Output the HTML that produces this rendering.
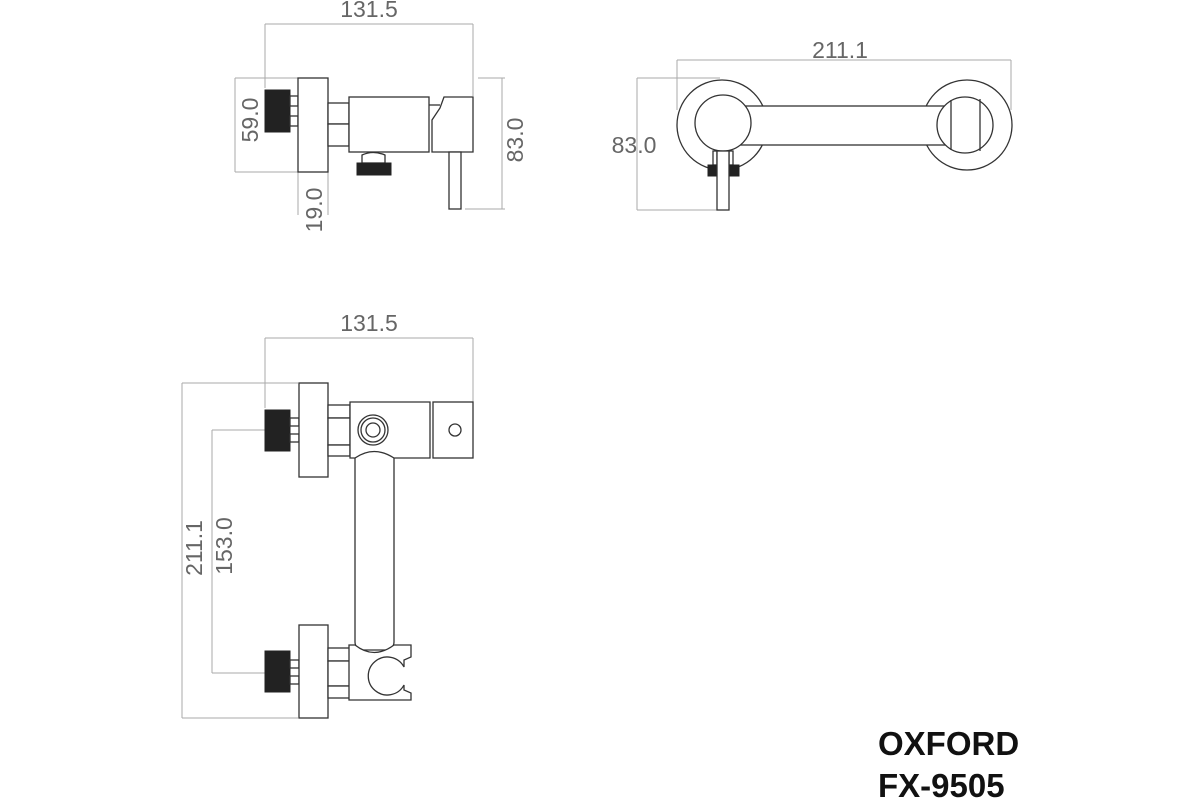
<!DOCTYPE html>
<html><head><meta charset="utf-8"><style>
html,body{margin:0;padding:0;background:#fff;width:1200px;height:800px;overflow:hidden}
svg{display:block}
.d{stroke:#aaa;stroke-width:1;fill:none}
.o{stroke:#333;stroke-width:1.3;fill:#fff}
.k{fill:#222;stroke:#222;stroke-width:1}
.t{font-family:"Liberation Sans",sans-serif;font-size:23px;fill:#666}
.b{font-family:"Liberation Sans",sans-serif;font-size:33px;font-weight:bold;fill:#111}
</style></head><body>
<svg width="1200" height="800" viewBox="0 0 1200 800" xmlns="http://www.w3.org/2000/svg">
<!-- ===== Top-left side view ===== -->
<line class="d" x1="265" y1="24" x2="473" y2="24"/>
<line class="d" x1="265" y1="24" x2="265" y2="88"/>
<line class="d" x1="473" y1="24" x2="473" y2="96"/>
<text class="t" x="369" y="17" text-anchor="middle">131.5</text>
<line class="d" x1="235" y1="78" x2="235" y2="172"/>
<line class="d" x1="235" y1="78" x2="298" y2="78"/>
<line class="d" x1="235" y1="172" x2="298" y2="172"/>
<text class="t" transform="translate(258,120) rotate(-90)" text-anchor="middle">59.0</text>
<line class="d" x1="502" y1="78" x2="502" y2="209"/>
<line class="d" x1="478" y1="78" x2="505" y2="78"/>
<line class="d" x1="465" y1="209" x2="505" y2="209"/>
<text class="t" transform="translate(523,140) rotate(-90)" text-anchor="middle">83.0</text>
<line class="d" x1="298" y1="172" x2="298" y2="215"/>
<line class="d" x1="328" y1="172" x2="328" y2="215"/>
<text class="t" transform="translate(322,210) rotate(-90)" text-anchor="middle">19.0</text>
<rect class="k" x="265" y="90" width="25" height="42"/>
<rect class="o" x="290" y="96" width="8" height="10"/>
<rect class="o" x="290" y="116" width="8" height="10"/>
<rect class="o" x="298" y="78" width="30" height="94"/>
<rect class="o" x="328" y="103" width="21" height="21"/>
<rect class="o" x="328" y="124" width="21" height="22"/>
<rect class="o" x="349" y="97" width="80" height="55"/>
<path class="o" d="M432 152 V120 L440 108 L444 97 H473 V152 Z"/>
<line class="o" x1="429" y1="105" x2="440" y2="105"/>
<rect class="o" x="449" y="152" width="12" height="57"/>
<path class="o" d="M362 163 V155 Q373 150 385 155 V163 Z"/>
<rect class="k" x="357" y="163" width="34" height="12"/>
<!-- ===== Top-right front view ===== -->
<line class="d" x1="677" y1="60" x2="1011" y2="60"/>
<line class="d" x1="677" y1="60" x2="677" y2="110"/>
<line class="d" x1="1011" y1="60" x2="1011" y2="110"/>
<text class="t" x="840" y="58" text-anchor="middle">211.1</text>
<line class="d" x1="637" y1="78" x2="637" y2="210"/>
<line class="d" x1="637" y1="78" x2="720" y2="78"/>
<line class="d" x1="637" y1="210" x2="717" y2="210"/>
<text class="t" x="634" y="153" text-anchor="middle">83.0</text>
<circle class="o" cx="722" cy="125" r="45"/>
<circle class="o" cx="967" cy="125" r="45"/>
<rect class="o" x="740" y="106" width="210" height="39"/>
<circle class="o" cx="723" cy="123" r="28"/>
<circle class="o" cx="965" cy="125" r="28"/>
<line class="o" x1="951" y1="100" x2="951" y2="150"/>
<line class="o" x1="980" y1="99" x2="980" y2="151"/>
<rect class="o" x="713" y="151" width="4" height="14"/>
<rect class="o" x="729" y="151" width="4" height="14"/>
<rect class="k" x="708" y="165" width="9" height="11"/>
<rect class="k" x="729" y="165" width="10" height="11"/>
<rect class="o" x="717" y="151" width="12" height="59"/>
<!-- ===== Bottom-left top view ===== -->
<line class="d" x1="265" y1="338" x2="473" y2="338"/>
<line class="d" x1="265" y1="338" x2="265" y2="408"/>
<line class="d" x1="473" y1="338" x2="473" y2="402"/>
<text class="t" x="369" y="331" text-anchor="middle">131.5</text>
<line class="d" x1="182" y1="383" x2="182" y2="718"/>
<line class="d" x1="182" y1="383" x2="298" y2="383"/>
<line class="d" x1="182" y1="718" x2="298" y2="718"/>
<line class="d" x1="212" y1="430" x2="212" y2="673"/>
<line class="d" x1="212" y1="430" x2="265" y2="430"/>
<line class="d" x1="212" y1="673" x2="265" y2="673"/>
<text class="t" transform="translate(202,548) rotate(-90)" text-anchor="middle">211.1</text>
<text class="t" transform="translate(232,546) rotate(-90)" text-anchor="middle">153.0</text>
<rect class="k" x="265" y="410" width="25" height="41"/>
<rect class="o" x="290" y="418" width="9" height="8"/>
<rect class="o" x="290" y="434" width="9" height="8"/>
<rect class="o" x="299" y="383" width="29" height="94"/>
<rect class="o" x="328" y="405" width="22" height="13"/>
<rect class="o" x="328" y="418" width="22" height="27"/>
<rect class="o" x="328" y="445" width="22" height="11"/>
<rect class="o" x="355" y="450" width="39" height="200" rx="8"/>
<path class="o" d="M350 402 H430 V458 H394 Q374 445 355 458 H350 Z"/>
<circle class="o" cx="373" cy="430" r="15"/>
<circle class="o" cx="373" cy="430" r="12"/>
<circle class="o" cx="373" cy="430" r="7"/>
<rect class="o" x="433" y="402" width="40" height="56"/>
<circle class="o" cx="455" cy="430" r="6"/>
<rect class="k" x="265" y="651" width="25" height="41"/>
<rect class="o" x="290" y="660" width="9" height="8"/>
<rect class="o" x="290" y="676" width="9" height="8"/>
<rect class="o" x="299" y="625" width="29" height="93"/>
<rect class="o" x="328" y="648" width="22" height="13"/>
<rect class="o" x="328" y="661" width="22" height="25"/>
<rect class="o" x="328" y="686" width="22" height="12"/>
<path class="o" d="M349 645 H355 Q374 660 394 645 H411 V657 L404 660 V667 A19 19 0 1 0 404 685 V690 L411 693 V700 H349 Z"/>
<!-- Title -->
<text class="b" x="878" y="755">OXFORD</text>
<text class="b" x="878" y="797">FX-9505</text>
</svg>
</body></html>
